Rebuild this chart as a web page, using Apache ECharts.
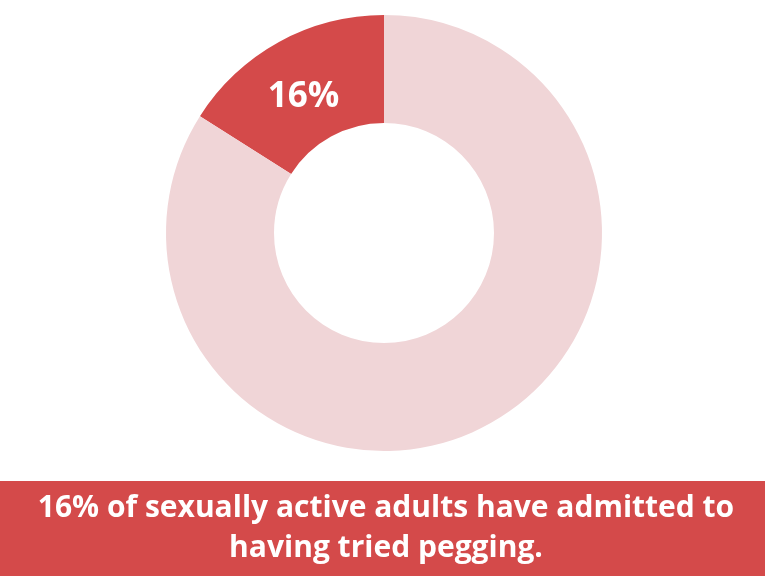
<!DOCTYPE html>
<html><head><meta charset="utf-8">
<script src="https://cdn.jsdelivr.net/npm/echarts@6/dist/echarts.min.js"></script>
<style>html,body{margin:0;padding:0;background:#fff}#c{width:768px;height:576px}</style>
</head><body><div id="c"></div>
<script>
const categories = ['Tried pegging', 'Not tried'];
const values = [16, 84];
const captionLines = ['16% of sexually active adults have admitted to', 'having tried pegging.'];
const colors = ['#D44A4A', '#F0D5D7'];

const chart = echarts.init(document.getElementById('c'), null, {renderer: 'canvas'});
chart.setOption({
  animation: false,
  series: [{
    type: 'pie',
    center: [384, 233],
    radius: [110, 218],
    startAngle: 90,
    clockwise: false,
    silent: true,
    data: categories.map((n, i) => ({
      name: n, value: values[i],
      itemStyle: {color: colors[i]},
      label: i === 0 ? {show: true} : {show: false}
    })),
    label: {
      position: 'inside',
      formatter: p => '{s|}\n{v|' + p.value + '%}',
      rich: {
        s: {height: 20, lineHeight: 20},
        v: {color: '#fff', fontFamily: 'Open Sans', fontWeight: 'bold', fontSize: 35, lineHeight: 40}
      }
    },
    labelLine: {show: false}
  }],
  graphic: [
    {type: 'rect', left: 0, top: 481, shape: {width: 765, height: 95}, style: {fill: '#D44A4A'}},
    {type: 'text', x: 386, y: 508, style: {text: captionLines[0], fill: '#fff', font: 'bold 30px "Open Sans"', textAlign: 'center', textVerticalAlign: 'middle'}},
    {type: 'text', x: 386, y: 548, style: {text: captionLines[1], fill: '#fff', font: 'bold 30px "Open Sans"', textAlign: 'center', textVerticalAlign: 'middle'}}
  ]
});
</script></body></html>
